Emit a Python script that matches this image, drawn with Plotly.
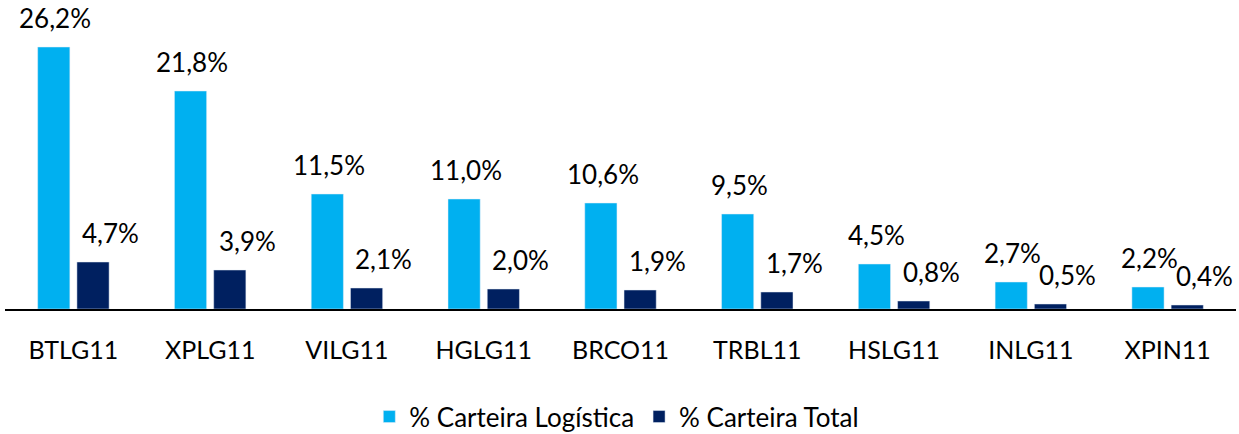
import plotly.graph_objects as go

fundos = ["BTLG11", "XPLG11", "VILG11", "HGLG11", "BRCO11", "TRBL11", "HSLG11", "INLG11", "XPIN11"]
carteira_logistica = [26.2, 21.8, 11.5, 11.0, 10.6, 9.5, 4.5, 2.7, 2.2]
carteira_total = [4.7, 3.9, 2.1, 2.0, 1.9, 1.7, 0.8, 0.5, 0.4]

fonte = "Lato, 'Open Sans', sans-serif"


def rotulo(v):
    # formato brasileiro: vírgula decimal
    return f"{v:.1f}".replace(".", ",") + "%"


fig = go.Figure()
fig.add_trace(go.Bar(x=fundos, y=carteira_logistica, name="% Carteira Logística",
                     marker_color="#00B0F0"))
fig.add_trace(go.Bar(x=fundos, y=carteira_total, name="% Carteira Total",
                     marker_color="#002060"))

# rótulos de dados, um pouco acima das barras como no Excel
for serie, desloc in [(carteira_logistica, -18), (carteira_total, 37)]:
    for f, v in zip(fundos, serie):
        fig.add_annotation(x=f, y=v, text=rotulo(v), showarrow=False,
                           xshift=desloc, yshift=11, yanchor="bottom",
                           font=dict(size=26, color="#000000"))

fig.update_layout(
    width=1239, height=434,
    margin=dict(l=5, r=3, t=9, b=125),
    paper_bgcolor="white", plot_bgcolor="white",
    barmode="group", bargap=0.426, bargroupgap=0.18,
    font=dict(family=fonte, size=25, color="#000000"),
    showlegend=True,
    legend=dict(orientation="h", x=0.497, xanchor="center",
                yref="container", y=0.04, yanchor="middle",
                font=dict(size=26), itemwidth=30, traceorder="normal"),
)
fig.update_xaxes(showline=True, linecolor="#000000", linewidth=1.5, ticks="",
                 range=[-0.5, 8.5],
                 ticklabelstandoff=18, tickfont=dict(size=25), automargin=False)
fig.update_yaxes(visible=False, range=[0, 30], showgrid=False, zeroline=False)

# tira a margem padrão do <body> para o gráfico ocupar a janela toda
fig.write_html("out.html", config={"displayModeBar": False},
               post_script="document.body.style.margin='0';")
